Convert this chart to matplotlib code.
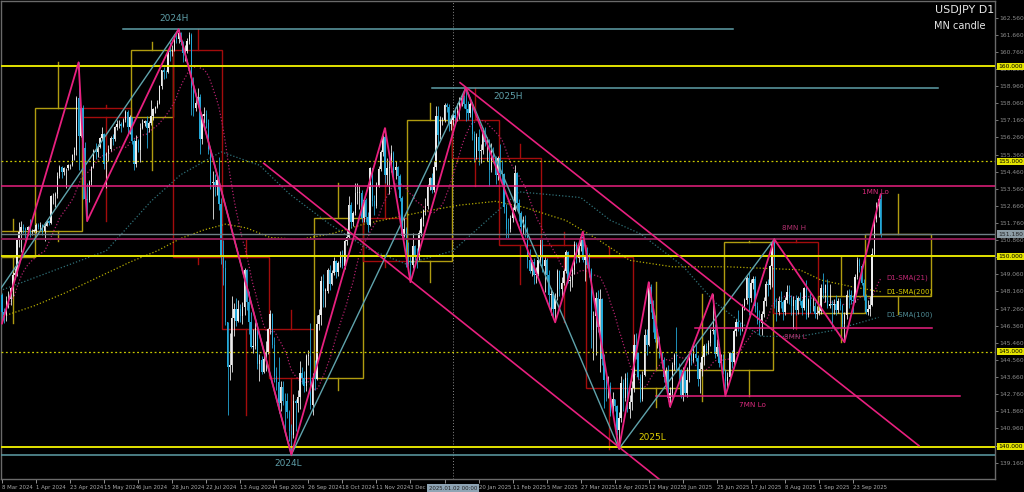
import matplotlib
matplotlib.use("Agg")
import matplotlib.pyplot as plt
from matplotlib.patches import Rectangle
import matplotlib.transforms as mtrans
import numpy as np
import pandas as pd

# ---------------- DATA ----------------
first_open = 147.98
closes = [147.06,
146.94,147.68,147.77,148.33,149.05,
149.13,150.87,151.27,151.55,151.42,
151.37,151.55,151.33,151.35,151.35,
151.65,151.57,151.68,151.33,151.62,
151.85,151.77,153.16,153.20,153.27,
154.23,154.71,154.42,154.64,154.64,
154.80,154.83,155.33,155.61,158.33,
156.34,157.80,155.70,153.00,152.97,
153.90,154.68,155.57,155.47,155.78,
156.22,156.45,154.88,155.42,155.66,
156.25,156.17,156.79,156.96,156.98,
156.85,157.17,157.62,156.79,157.31,
156.07,154.86,156.08,155.62,156.74,
157.03,157.13,156.74,157.04,157.40,
157.73,157.85,158.09,158.98,159.79,
159.69,159.68,160.80,160.75,160.88,
161.46,161.45,161.74,161.27,160.72,
160.81,161.33,161.66,158.84,157.83,
158.05,158.36,156.18,157.38,157.49,
157.01,155.66,153.89,153.93,153.76,
154.00,152.77,149.98,149.39,146.53,
144.18,144.31,146.76,147.26,146.61,
147.22,146.86,147.32,149.28,147.61,
146.54,145.24,145.27,146.26,144.36,
144.55,143.95,144.63,144.98,146.17,
147.00,145.36,143.71,143.42,142.30,
143.12,142.42,142.38,141.81,140.85,
140.62,142.39,142.30,142.59,143.85,
143.61,143.21,144.79,144.79,142.17,
143.63,143.54,146.46,146.95,148.72,
148.19,148.21,149.31,148.58,149.13,
149.76,149.18,149.65,150.07,149.51,
150.82,151.05,152.73,151.81,152.30,
153.34,153.36,153.36,152.03,152.98,
152.08,151.63,154.63,152.93,152.64,
153.72,154.62,155.49,156.27,154.30,
154.65,154.66,155.44,154.55,154.73,
154.21,153.07,151.09,151.46,149.77,
149.58,149.57,150.54,150.08,149.98,
151.24,151.97,152.44,152.65,153.66,
154.14,153.49,154.68,157.40,156.39,
157.16,157.17,157.99,157.87,
156.96,157.20,157.45,157.27,
157.64,158.06,158.31,158.03,157.74,
157.54,158.02,156.45,155.23,156.30,
155.55,155.61,156.51,156.01,156.04,
154.53,155.53,155.24,154.26,155.18,
154.38,154.34,152.60,151.44,151.42,
152.02,152.46,154.37,152.81,152.29,
151.55,151.91,151.46,149.81,149.25,
149.69,149.01,149.07,149.82,150.63,
149.52,149.81,149.03,147.98,148.04,
147.24,147.85,149.25,148.29,148.63,
149.22,150.26,148.73,148.76,149.31,
150.68,149.91,150.55,151.04,149.83,
149.96,149.56,149.35,146.16,146.89,
147.82,146.29,147.75,144.62,143.52,
143.06,143.20,141.76,142.50,142.14,
140.86,141.53,143.35,142.56,143.62,
142.00,142.33,143.07,145.35,144.91,
143.69,142.49,143.77,145.89,145.37,
148.42,147.49,146.70,145.67,145.69,
144.87,144.54,143.65,144.00,142.58,
142.83,144.31,144.84,144.14,144.03,
142.70,143.99,142.81,143.51,144.86,
144.58,144.87,144.65,143.54,144.07,
144.74,145.28,145.08,145.46,146.09,
146.15,144.87,145.24,144.42,144.62,
144.03,143.44,143.65,144.94,144.46,
146.07,146.58,146.28,146.25,147.41,
147.72,148.86,147.84,148.61,148.80,
147.38,146.61,146.49,146.98,147.66,
148.56,148.48,149.49,150.74,147.41,
147.06,147.68,147.59,147.07,147.73,
148.13,147.81,147.40,147.72,147.21,
147.83,147.66,147.31,148.37,146.93,
147.70,147.39,147.41,146.98,147.05,
147.14,148.36,148.06,148.48,147.41,
147.51,147.43,147.48,147.19,147.68,
147.42,146.47,146.94,147.98,147.97,
147.73,147.67,148.92,149.82,149.50,
148.62,147.90,147.08,147.25,147.47,
150.11,151.99,152.68,153.02,151.18]

highs = [148.10,
147.30,147.93,148.16,148.38,149.16,
149.40,150.97,151.82,151.86,151.72,
151.55,151.62,151.97,151.43,151.42,
151.77,151.78,151.80,151.71,151.83,
151.93,151.94,153.24,153.32,153.38,
154.45,154.79,154.75,154.70,154.65,
154.85,154.88,155.37,155.74,158.44,
160.21,157.86,157.99,156.00,153.88,
154.00,154.75,155.67,155.95,155.90,
156.27,156.79,156.50,155.52,155.88,
156.34,156.42,156.86,157.20,157.18,
157.05,157.30,157.72,157.71,157.43,
157.34,156.18,156.37,156.18,157.00,
157.25,157.20,157.40,157.15,158.25,
157.80,157.90,158.22,159.04,159.83,
159.95,159.78,160.87,161.27,161.10,
161.72,161.75,161.95,161.82,161.35,
161.10,161.48,161.80,161.76,159.45,
158.40,158.86,158.55,157.50,157.86,
157.68,157.25,155.70,154.50,154.35,
154.24,155.22,153.10,150.89,149.82,
146.55,146.00,147.90,147.53,147.81,
147.72,147.50,147.62,149.40,149.35,
148.20,147.10,146.20,146.55,146.50,
144.85,144.75,144.90,145.55,146.25,
147.21,147.05,145.75,144.20,144.70,
143.45,143.45,142.80,142.80,141.95,
141.20,142.75,142.52,143.00,144.50,
144.20,144.00,144.90,145.10,146.49,
143.90,144.55,146.90,147.25,149.00,
149.10,148.33,149.40,149.55,149.30,
149.98,149.80,149.75,150.30,150.32,
150.90,151.42,153.19,152.85,152.40,
153.88,153.85,153.70,153.50,153.10,
153.05,152.35,154.70,154.65,153.25,
153.90,154.75,155.60,156.40,156.75,
155.20,155.05,155.88,155.55,155.00,
154.75,154.35,153.20,152.00,151.55,
150.76,150.00,151.23,150.60,150.45,
151.40,152.10,152.50,153.05,153.80,
154.20,154.40,155.00,157.90,157.93,
157.40,157.35,158.08,158.05,
158.00,157.45,157.70,157.85,
158.05,158.40,158.55,158.48,158.87,
158.20,158.10,158.10,156.60,156.50,
156.70,155.90,156.75,156.80,156.30,
156.20,155.95,155.75,155.30,155.30,
155.89,155.05,154.40,152.75,152.00,
152.20,152.60,154.80,154.45,153.00,
152.40,152.15,152.20,151.55,150.40,
149.80,149.90,149.45,149.95,150.99,
150.90,149.95,149.90,149.30,148.35,
148.15,148.10,149.35,149.30,148.90,
149.35,150.32,150.30,149.00,149.60,
150.80,150.75,150.60,151.20,151.30,
150.00,150.50,150.20,149.40,147.15,
148.15,148.25,148.30,147.80,144.85,
144.00,143.70,143.40,142.85,142.50,
142.20,141.80,143.70,143.55,143.85,
143.95,142.70,143.45,145.95,146.00,
145.00,143.80,144.00,146.20,146.18,
148.65,148.55,147.70,146.90,146.20,
145.80,145.00,144.70,144.20,144.30,
143.15,144.45,144.95,146.28,144.40,
144.10,144.20,144.05,144.20,145.05,
145.00,145.40,145.40,144.80,144.45,
144.80,145.40,145.45,145.60,146.20,
148.03,146.45,145.65,145.40,144.90,
144.85,144.10,143.95,145.00,145.10,
146.20,146.70,147.18,146.55,147.50,
147.80,149.00,149.19,148.80,149.00,
148.95,147.60,147.20,147.15,147.85,
148.70,148.80,149.55,150.80,150.91,
147.80,147.90,148.20,147.70,147.85,
148.50,148.50,147.95,147.90,148.00,
147.90,148.15,147.75,148.40,148.75,
147.80,148.10,147.90,147.60,147.40,
147.40,148.55,149.15,148.55,148.80,
148.58,147.70,147.75,147.95,147.80,
147.80,147.50,147.10,148.25,148.30,
148.25,148.00,149.10,149.95,149.90,
149.60,148.80,148.05,147.70,147.90,
150.45,152.05,152.85,153.20,153.27]

lows = [146.48,
146.49,146.62,147.31,147.47,147.92,
148.84,149.00,150.50,150.26,151.21,
150.84,151.15,151.03,151.12,151.27,
151.22,151.47,151.40,151.15,150.81,
151.59,151.63,151.72,152.75,152.59,
153.05,154.15,154.13,154.30,153.60,
154.55,154.60,154.78,155.06,155.35,
154.54,156.26,153.04,152.99,151.86,
152.85,153.77,154.63,155.14,155.22,
155.68,156.10,154.62,153.60,155.04,
155.55,155.84,156.05,156.65,156.78,
156.55,156.80,157.06,156.40,156.45,
155.93,154.55,154.70,155.50,154.98,
156.70,156.85,155.73,156.55,156.90,
157.20,157.55,157.80,158.00,158.80,
159.35,159.40,159.65,160.28,160.55,
160.82,161.20,161.20,161.10,160.22,
160.30,160.70,161.15,157.44,157.40,
157.65,157.90,155.37,155.90,157.00,
156.75,155.40,153.55,151.95,153.18,
153.25,152.45,149.60,148.51,146.42,
141.68,143.50,143.95,145.80,146.32,
146.55,146.55,146.45,146.95,147.18,
145.90,145.20,144.95,145.15,144.10,
143.45,143.80,143.85,144.00,144.90,
145.92,145.20,143.40,143.00,141.75,
141.90,142.20,140.70,141.50,140.30,
139.58,140.45,140.85,141.80,142.00,
143.30,142.90,142.95,144.30,142.00,
141.65,142.97,143.50,146.15,146.40,
147.35,147.35,148.10,148.25,148.50,
149.05,148.85,148.98,149.45,149.40,
149.35,150.60,150.98,151.50,151.60,
152.20,152.75,152.50,151.80,151.80,
151.80,151.30,151.60,152.65,152.20,
152.55,153.65,154.50,155.30,153.85,
153.75,153.30,154.45,153.85,154.10,
153.55,152.90,150.95,151.00,149.47,
149.50,148.65,149.40,149.80,149.40,
149.80,151.10,151.60,152.20,152.50,
153.50,153.35,153.40,154.55,155.90,
156.20,156.90,157.05,157.60,
156.60,156.65,156.90,157.05,
157.10,157.25,157.90,157.80,157.10,
157.20,157.35,156.10,154.98,155.10,
154.80,154.90,155.40,155.80,155.00,
153.72,154.45,154.90,153.80,154.00,
154.10,153.80,152.30,150.95,150.93,
151.30,151.80,152.40,152.55,151.85,
151.30,151.20,151.00,149.40,149.15,
148.95,148.57,148.60,149.00,149.55,
149.20,148.12,148.75,147.35,146.95,
146.75,146.54,147.70,147.90,147.90,
148.50,149.15,148.60,148.20,148.40,
149.10,149.65,149.70,150.30,149.70,
148.70,149.40,148.90,145.20,144.55,
144.80,146.05,143.95,144.30,142.05,
142.40,142.55,141.60,141.65,141.90,
140.60,139.89,141.30,141.90,142.40,
141.85,141.50,141.95,142.90,144.60,
143.55,142.35,142.40,143.70,144.80,
145.30,147.10,146.05,145.50,145.20,
144.65,144.15,143.40,143.05,142.40,
142.10,142.60,144.05,143.95,143.45,
142.55,142.40,142.65,142.60,143.40,
144.30,144.45,144.50,143.20,142.80,
143.70,144.30,144.80,144.90,145.30,
145.90,144.65,144.75,144.20,144.30,
143.80,142.68,143.15,143.50,144.15,
144.30,145.80,146.10,145.85,146.10,
147.20,147.50,146.90,147.60,148.30,
147.10,146.45,145.85,145.85,146.80,
147.40,147.90,148.30,148.40,147.30,
146.60,146.90,147.30,146.65,146.90,
147.55,147.50,146.90,146.21,146.90,
147.00,147.45,146.95,147.20,146.70,
146.80,147.05,147.15,146.75,146.70,
146.95,147.00,147.80,147.60,147.30,
147.30,146.30,147.00,146.95,147.05,
147.20,146.30,145.49,146.70,147.30,
147.50,147.05,147.60,148.80,149.20,
148.50,147.70,147.00,146.95,146.85,
147.40,150.00,151.80,152.10,151.00]

# Monthly candles (MN) : start bar index of each month, OHLC
mn_start = [-5, 16, 38, 61, 81, 104, 126, 147, 170, 191, 212, 234, 254, 275, 297, 319, 340, 363, 384, 406]
mn_end_last = 437
mn_open  = [149.98,151.35,157.80,157.31,160.88,149.98,146.17,143.63,152.03,149.77,157.20,155.18,150.63,149.96,143.07,144.03,144.03,150.74,147.05,147.90]
mn_high  = [151.97,160.21,157.99,161.27,161.95,150.89,147.21,153.88,156.75,158.08,158.87,155.89,151.30,150.50,148.65,148.03,150.80,150.91,149.95,153.27]
mn_low   = [146.48,150.81,151.86,154.55,149.60,141.68,139.58,142.97,149.47,148.65,153.72,148.57,146.54,139.89,142.10,142.40,142.68,146.21,145.49,147.00]
mn_close = [151.35,157.80,157.31,160.88,149.98,146.17,143.63,152.03,149.77,157.20,155.18,150.63,149.96,143.07,144.03,144.03,150.74,147.05,147.90,151.18]

# ZigZag swing points (bar index, price)
zz_fast_idx = [0, 36, 40, 83, 136, 180, 192, 218, 260, 273, 290, 304, 314, 334, 340, 363, 396, 413]
zz_fast_val = [146.48,160.21,151.86,161.95,139.58,156.75,148.65,158.87,146.54,151.30,139.89,148.65,142.10,148.03,142.68,150.91,145.49,153.27]
zz_slow_idx = [-50, 83, 136, 218, 290, 363]
zz_slow_val = [140.25,161.95,139.58,158.87,139.89,150.91]

# Channel trend lines (bar index, price) pairs
chan_lower = [(123, 154.90), (320, 137.30)]
chan_upper = [(215.3, 159.14), (431, 140.05)]

# SMA(100) / SMA(200)
sma100_idx = [-1, 49, 70, 84, 103, 121, 135, 154, 172, 190, 212, 243, 272, 286, 300, 320, 335, 350, 357, 375, 390, 412]
sma100_val = [148.2,150.3,152.9,154.3,155.5,154.8,153.3,151.7,150.4,149.6,150.3,153.4,153.1,151.9,151.2,149.5,147.6,146.3,145.8,145.8,146.1,146.8]
sma200_idx = [-1, 15, 30, 45, 60, 73, 84, 95, 105, 115, 126, 140, 155, 170, 187, 200, 215, 232, 245, 265, 280, 295, 315, 341, 375, 385, 400, 413]
sma200_val = [146.8,147.4,148.1,148.9,149.7,150.3,150.95,151.4,151.7,151.5,151.0,150.9,151.2,151.7,152.1,152.4,152.7,152.9,152.6,151.9,150.9,149.8,149.46,149.46,149.3,148.76,148.4,148.15]

# Horizontal levels
round_levels = [160.0, 150.0, 140.0]
half_levels = [155.0, 145.0]
mn1_lo = 153.72
mn8_h = 150.91
mn8_l = 146.22
mn7_lo = 142.67
y2024_h = 161.95
y2025_h = 158.87
y2024_l = 139.58

tick_labels = ["8 Mar 2024", "1 Apr 2024", "23 Apr 2024", "15 May 2024", "6 Jun 2024", "28 Jun 2024",
               "22 Jul 2024", "13 Aug 2024", "4 Sep 2024", "26 Sep 2024", "18 Oct 2024", "11 Nov 2024",
               "3 Dec 2024", "26 Dec 2024", "20 Jan 2025", "11 Feb 2025", "5 Mar 2025", "27 Mar 2025",
               "18 Apr 2025", "12 May 2025", "3 Jun 2025", "25 Jun 2025", "17 Jul 2025", "8 Aug 2025",
               "1 Sep 2025", "23 Sep 2025"]
cross_idx = 212
cross_label = "2025.01.02 00:00"

# ---------------- LAYOUT HELPERS ----------------
W, H = 1024, 492
def ix(xp):  # pixel x -> bar index
    return (xp - 2) / 2.1275
def pv(yp):  # pixel y -> price
    return 140 + (446.7 - yp) / 19.02

fig = plt.figure(figsize=(W / 100, H / 100), dpi=100, facecolor="black")
ax = fig.add_axes([1 / W, (H - 479) / H, 994 / W, 478 / H], facecolor="black")
ax.set_xlim(ix(1), ix(995))
ax.set_ylim(pv(479), pv(1))

n = min(len(closes), len(highs), len(lows))
c = np.array(closes[:n])
o = np.concatenate([[first_open], c[:-1]])
hi = np.maximum(np.array(highs[:n]), np.maximum(o, c))
lo = np.minimum(np.array(lows[:n]), np.minimum(o, c))
xs = np.arange(n)

YEL = "#e4e400"
PINK = "#e8207f"
TEAL = "#5e9ea8"
MAROON = "#8c1c55"

# monthly boxes
starts = mn_start + [mn_end_last]
for k in range(len(mn_open)):
    a, b = starts[k] - 0.5, starts[k + 1] - 0.5
    bull = mn_close[k] >= mn_open[k]
    col = "#b09c10" if bull else "#a30c0c"
    lo_b, hi_b = min(mn_open[k], mn_close[k]), max(mn_open[k], mn_close[k])
    ax.add_patch(Rectangle((a, lo_b), b - a, hi_b - lo_b, fill=False, ec=col, lw=1.0, zorder=2))
    m = (a + b) / 2
    ax.plot([m, m], [hi_b, mn_high[k]], color=col, lw=1.0, zorder=2)
    ax.plot([m, m], [mn_low[k], lo_b], color=col, lw=1.0, zorder=2)

# crosshair
ax.axvline(cross_idx, color="#8a8a8a", lw=0.7, ls=(0, (1, 2)), zorder=2)

# SMAs
sma21 = pd.Series(c).rolling(21, min_periods=1).mean().values
ax.plot(xs, sma21, color="#b0206a", lw=0.9, ls=(0, (1, 1.6)), zorder=3)
ax.plot(sma100_idx, sma100_val, color="#2f7078", lw=0.9, ls=(0, (1, 1.6)), zorder=3)
ax.plot(sma200_idx, sma200_val, color="#b4aa00", lw=0.9, ls=(0, (1, 1.6)), zorder=3)

# candles
up = c >= o
cols = np.where(up, "#ececec", "#24a8d8")
ax.vlines(xs, lo, hi, colors=cols, lw=0.6, zorder=4)
ax.bar(xs, np.maximum(np.abs(c - o), 0.03), bottom=np.minimum(o, c), width=0.62,
       color=cols, lw=0, zorder=4)

# horizontal levels
for lv in round_levels:
    ax.axhline(lv, color=YEL, lw=1.4, zorder=5)
for lv in half_levels:
    ax.axhline(lv, color="#c8c800", lw=0.9, ls=(0, (1.5, 2)), zorder=5)
ax.axhline(mn1_lo, color=PINK, lw=1.1, zorder=5)
ax.axhline(c[-1], color="#6f7f86", lw=1.0, zorder=5)
ax.axhline(mn8_h, color=MAROON, lw=1.4, zorder=5)
ax.axhline(y2024_l, color=TEAL, lw=1.1, zorder=5)
ax.plot([ix(123), ix(733)], [y2024_h, y2024_h], color=TEAL, lw=1.1, zorder=5)
ax.plot([ix(432), ix(938)], [y2025_h, y2025_h], color=TEAL, lw=1.1, zorder=5)
ax.plot([ix(695), ix(932)], [mn8_l, mn8_l], color=PINK, lw=1.1, zorder=5)
ax.plot([ix(656), ix(960)], [mn7_lo, mn7_lo], color=PINK, lw=1.1, zorder=5)

# zigzags
ax.plot(zz_slow_idx, zz_slow_val, color="#5fa3ac", lw=1.0, zorder=6)
ax.plot(zz_fast_idx, zz_fast_val, color=PINK, lw=1.3, zorder=6)

# channel
for ln in (chan_lower, chan_upper):
    ax.plot([ln[0][0], ln[1][0]], [ln[0][1], ln[1][1]], color=PINK, lw=1.2, zorder=6)

# labels
def lab(xp, yp, s, col, fs=6.5, ha="center"):
    ax.text(ix(xp), pv(yp), s, color=col, fontsize=fs, ha=ha, va="center", zorder=8)
lab(174, 19, "2024H", TEAL)
lab(508, 97, "2025H", TEAL)
lab(288, 464, "2024L", TEAL)
lab(652, 437, "2025L", "#e0d000")
lab(794, 228, "8MN H", "#b0306e", 5.2)
lab(795, 337, "8MN L", "#b0306e", 5.2)
lab(752, 405, "7MN Lo", "#d82a7c", 5.2)
lab(875, 192, "1MN Lo", "#d82a7c", 5.2)
lab(886, 278, "D1-SMA(21)", "#c02874", 5.0, "left")
lab(886, 292, "D1-SMA(200)", "#d8cc00", 5.0, "left")
lab(886, 315, "D1-SMA(100)", "#4f8c96", 5.0, "left")

fig.text(994 / W, 1 - 10 / H, "USDJPY D1", color="#e8e8e8", fontsize=8, ha="right", va="center")
fig.text(986 / W, 1 - 26 / H, "MN candle", color="#e8e8e8", fontsize=7, ha="right", va="center")

# axes styling
for s in ax.spines.values():
    s.set_color("#6a6a6a")
    s.set_linewidth(1.0)
ax.yaxis.tick_right()
yt = [139.16 + 0.9 * k for k in range(27)]
ax.set_yticks(yt)
ax.set_yticklabels(["%.3f" % v for v in yt])
ax.tick_params(axis="y", colors="#8c8c8c", labelsize=4.3, length=2, width=0.6, pad=1)
ax.set_xticks([16 * k for k in range(len(tick_labels))])
ax.set_xticklabels(tick_labels, ha="left")
ax.tick_params(axis="x", colors="#a8a8a8", labelsize=3.9, length=3, width=0.6, pad=1)

# highlighted price labels on axis
blend = mtrans.blended_transform_factory(ax.transAxes, ax.transData)
for lv in round_levels + half_levels:
    ax.text(1.003, lv, "%.3f" % lv, transform=blend, fontsize=4.3, color="black", ha="left",
            va="center", clip_on=False, zorder=9,
            bbox=dict(boxstyle="square,pad=0.2", fc=YEL, ec="none"))
ax.text(1.003, c[-1], "%.3f" % c[-1], transform=blend, fontsize=4.3, color="#202020", ha="left",
        va="center", clip_on=False, zorder=9,
        bbox=dict(boxstyle="square,pad=0.2", fc="#8c9ca4", ec="none"))
# crosshair date label
bl2 = mtrans.blended_transform_factory(ax.transData, ax.transAxes)
ax.text(cross_idx, -0.019, cross_label, transform=bl2, fontsize=3.9, color="#202020", ha="center",
        va="center", clip_on=False, zorder=9,
        bbox=dict(boxstyle="square,pad=0.25", fc="#8ea4b4", ec="none"))

fig.savefig("out.png", dpi=100, facecolor="black")
